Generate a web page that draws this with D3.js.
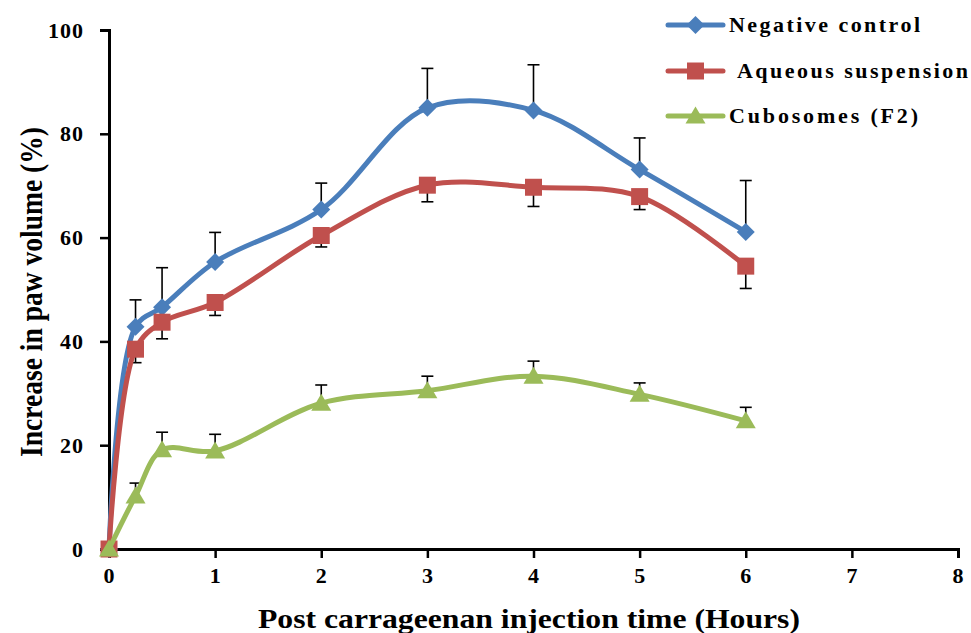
<!DOCTYPE html>
<html>
<head>
<meta charset="utf-8">
<script src="https://cdn.jsdelivr.net/npm/d3@7"></script>
<style>
  body { margin: 0; background: #fff; }
  text { font-family: "Liberation Serif", "Times New Roman", serif; font-weight: bold; fill: #000; }
</style>
</head>
<body>
<div id="chart"></div>
<script>
// data
var times = [0, 0.25, 0.5, 1, 2, 3, 4, 5, 6];
var negControl = [0, 42.8, 46.6, 55.3, 65.4, 85.0, 84.5, 73.1, 61.1];
var negControlErr = [0, 5.2, 7.6, 5.7, 5.1, 7.6, 8.8, 6.1, 9.9];
var aqueous = [0, 38.5, 43.7, 47.5, 60.4, 70.1, 69.7, 67.9, 54.5];
var aqueousErr = [0, 2.6, 3.2, 2.5, 2.2, 3.2, 3.7, 2.5, 4.3];
var cubosomes = [0, 10.2, 19.1, 18.9, 28.1, 30.5, 33.3, 29.8, 24.7];
var cubosomesErr = [0, 2.5, 3.4, 3.2, 3.5, 2.8, 2.9, 2.2, 2.6];
var xTicks = [0, 1, 2, 3, 4, 5, 6, 7, 8];
var yTicks = [0, 20, 40, 60, 80, 100];

var series = [
  {name: "Negative control", values: negControl, err: negControlErr, dir: 1, color: "#4A7EBB", shape: "diamond"},
  {name: "Aqueous suspension", values: aqueous, err: aqueousErr, dir: -1, color: "#C0504D", shape: "square"},
  {name: "Cubosomes (F2)", values: cubosomes, err: cubosomesErr, dir: 1, color: "#9BBB59", shape: "triangle"}
];

var width = 971, height = 633;
var margin = {top: 30, right: 13, bottom: 84, left: 109};

var svg = d3.select("#chart").append("svg")
  .attr("width", width)
  .attr("height", height);

var x = d3.scaleLinear().domain([0, 8]).range([margin.left, width - margin.right]);
var y = d3.scaleLinear().domain([0, 100]).range([height - margin.bottom, margin.top]);

// axes
var xAxis = svg.append("g")
  .attr("transform", "translate(0," + y(0) + ")")
  .call(d3.axisBottom(x).tickValues(xTicks).tickSize(9).tickPadding(9).tickFormat(d3.format("d")));
var yAxis = svg.append("g")
  .attr("transform", "translate(" + x(0) + ",0)")
  .call(d3.axisLeft(y).tickValues(yTicks).tickSize(9).tickPadding(16).tickFormat(d3.format("d")));

[xAxis, yAxis].forEach(function(ax) {
  ax.select(".domain").attr("stroke", "#000").attr("stroke-width", 3);
  ax.selectAll(".tick line").attr("stroke", "#000").attr("stroke-width", 2.5);
  ax.selectAll(".tick text")
    .style("font-family", "'Liberation Serif', 'Times New Roman', serif")
    .style("font-weight", "bold")
    .style("font-size", "22px")
    .style("letter-spacing", "1px")
    .attr("fill", "#000");
});

// error bars (drawn under the lines)
var capW = 6;
series.forEach(function(s) {
  var g = svg.append("g");
  times.forEach(function(t, i) {
    if (s.err[i] === 0) return;
    var y0 = y(s.values[i]), y1 = y(s.values[i] + s.dir * s.err[i]);
    g.append("line")
      .attr("x1", x(t)).attr("x2", x(t))
      .attr("y1", y0).attr("y2", y1)
      .attr("stroke", "#000").attr("stroke-width", 1.6);
    g.append("line")
      .attr("x1", x(t) - capW).attr("x2", x(t) + capW)
      .attr("y1", y1).attr("y2", y1)
      .attr("stroke", "#000").attr("stroke-width", 1.6);
  });
});

// smoothed lines like the spreadsheet's
var line = d3.line()
  .curve(d3.curveCatmullRom.alpha(0.5))
  .x(function(d) { return x(d[0]); })
  .y(function(d) { return y(d[1]); });

function markerPath(shape) {
  if (shape === "diamond") return "M0,-9L9,0L0,9L-9,0Z";
  if (shape === "square") return "M-8.5,-8.5L8.5,-8.5L8.5,8.5L-8.5,8.5Z";
  return "M0,-9.5L10,7.5L-10,7.5Z";
}

series.forEach(function(s) {
  var pts = times.map(function(t, i) { return [t, s.values[i]]; });
  svg.append("path")
    .datum(pts)
    .attr("fill", "none")
    .attr("stroke", s.color)
    .attr("stroke-width", 5)
    .attr("stroke-linejoin", "round")
    .attr("d", line);
  svg.append("g").selectAll("path")
    .data(pts)
    .enter().append("path")
      .attr("transform", function(d) { return "translate(" + x(d[0]) + "," + y(d[1]) + ")"; })
      .attr("d", markerPath(s.shape))
      .attr("fill", s.color);
});

// legend
var legendY = [25, 71, 116];
var legendX = [729, 737, 729];
var legendW = [191, 231, 189];
series.forEach(function(s, i) {
  var g = svg.append("g").attr("transform", "translate(668," + legendY[i] + ")");
  g.append("line")
    .attr("x1", 0).attr("x2", 55)
    .attr("stroke", s.color).attr("stroke-width", 5).attr("stroke-linecap", "round");
  g.append("path")
    .attr("transform", "translate(27.5,0)")
    .attr("d", markerPath(s.shape))
    .attr("fill", s.color);
  g.append("text")
    .attr("x", legendX[i] - 668)
    .attr("y", 7)
    .attr("textLength", legendW[i])
    .attr("lengthAdjust", "spacing")
    .style("font-size", "22px")
    .text(s.name);
});

// axis titles
svg.append("text")
  .attr("x", 258)
  .attr("y", 628)
  .attr("textLength", 542)
  .attr("lengthAdjust", "spacingAndGlyphs")
  .style("font-size", "27px")
  .text("Post carrageenan  injection  time  (Hours)");

svg.append("text")
  .attr("transform", "translate(42,457) rotate(-90)")
  .attr("textLength", 330)
  .attr("lengthAdjust", "spacingAndGlyphs")
  .style("font-size", "31px")
  .text("Increase in  paw volume  (%)");
</script>
</body>
</html>
